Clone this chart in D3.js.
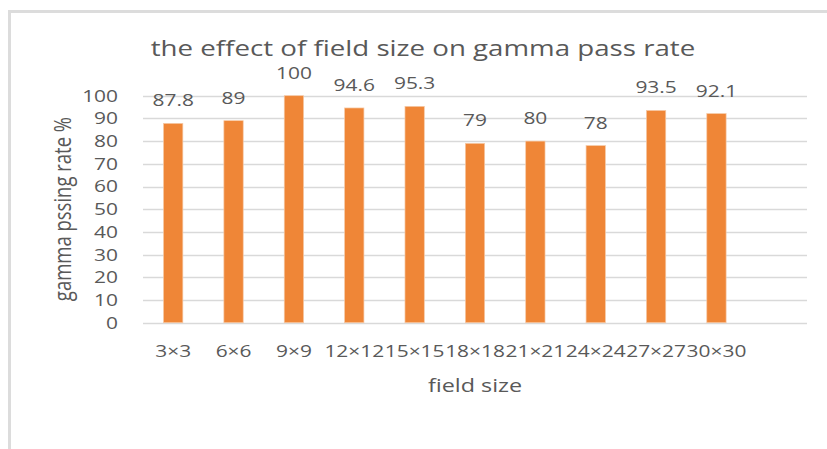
<!DOCTYPE html>
<html lang="en">

<head>
    <meta charset="UTF-8">
    <title>the effect of field size on gamma pass rate</title>
    <script src="https://d3js.org/d3.v7.min.js"></script>
    <style>
        body { margin: 0; background: #fff; }
    </style>
</head>

<body>
    <svg id="chart" width="827" height="449"></svg>
    <script>
        // data
        const fieldSizes = ["3×3", "6×6", "9×9", "12×12", "15×15", "18×18", "21×21", "24×24", "27×27", "30×30"];
        const passRates = [87.8, 89, 100, 94.6, 95.3, 79, 80, 78, 93.5, 92.1];
        const yTicks = [0, 10, 20, 30, 40, 50, 60, 70, 80, 90, 100];

        const width = 827;
        const height = 449;
        const textColor = "#595959";
        const font = "'Open Sans', sans-serif";
        // the screenshot is stretched sideways, so the text is too
        const sx = 1.23;

        const svg = d3.select("#chart");

        // place a text at (px, py) and widen it horizontally
        function stretch(sel, px, py) {
            sel.attr("x", 0).attr("y", 0)
                .attr("transform", (d, i) => `translate(${px(d, i)},${py(d, i)}) scale(${sx},1)`);
        }

        // outer frame (only top and left edges show in the picture)
        svg.append("path")
            .attr("d", `M9.5,${height} V11.5 H${width}`)
            .attr("fill", "none")
            .attr("stroke", "#dcdcdc")
            .attr("stroke-width", 3);

        // excel left an empty slot after the last category
        const x = d3.scaleBand()
            .domain([...fieldSizes, ""])
            .range([143, 807])
            .paddingInner(0.68)
            .paddingOuter(0.34);

        const y = d3.scaleLinear()
            .domain([0, 100])
            .range([322.7, 95.7]);

        // gridlines
        svg.append("g")
            .selectAll("line")
            .data(yTicks)
            .join("line")
            .attr("x1", 143)
            .attr("x2", 807)
            .attr("y1", d => Math.round(y(d)) + 0.5)
            .attr("y2", d => Math.round(y(d)) + 0.5)
            .attr("stroke", "#d9d9d9")
            .attr("stroke-width", 1.5);

        // y axis labels
        const yAxis = svg.append("g")
            .call(d3.axisLeft(y).tickValues(yTicks).tickSize(0).tickPadding(0));
        yAxis.select(".domain").remove();
        yAxis.selectAll(".tick").attr("transform", null);
        yAxis.selectAll("text")
            .attr("fill", textColor)
            .style("font-family", font)
            .style("font-size", "17px")
            .attr("text-anchor", "end")
            .attr("dy", "0.35em")
            .call(stretch, () => 118, d => y(d));

        // x axis labels
        const xAxis = svg.append("g")
            .call(d3.axisBottom(x).tickValues(fieldSizes).tickSize(0).tickPadding(0));
        xAxis.select(".domain").remove();
        xAxis.selectAll(".tick").attr("transform", null);
        xAxis.selectAll("text")
            .attr("fill", textColor)
            .style("font-family", font)
            .style("font-size", "17px")
            .attr("dy", 0)
            .call(stretch, d => x(d) + x.bandwidth() / 2, () => y(0) + 34);

        // bars
        svg.append("g")
            .selectAll("rect")
            .data(passRates)
            .join("rect")
            .attr("x", (d, i) => x(fieldSizes[i]))
            .attr("y", d => y(d))
            .attr("width", x.bandwidth())
            .attr("height", d => y(0) - y(d))
            .attr("fill", "#ef8637")
            .attr("stroke", "#f6c9a6")
            .attr("stroke-width", 0.7);

        // value labels
        svg.append("g")
            .selectAll("text")
            .data(passRates)
            .join("text")
            .attr("text-anchor", "middle")
            .attr("fill", textColor)
            .style("font-family", font)
            .style("font-size", "17px")
            .text(d => d)
            .call(stretch, (d, i) => x(fieldSizes[i]) + x.bandwidth() / 2, d => y(d) - 17);

        // title
        svg.append("text")
            .attr("text-anchor", "middle")
            .attr("fill", textColor)
            .style("font-family", font)
            .style("font-size", "22.5px")
            .text("the effect of field size on gamma pass rate")
            .call(stretch, () => 423, () => 56);

        // axis titles
        svg.append("text")
            .attr("transform", `translate(71,209) rotate(-90) scale(1,${sx})`)
            .attr("text-anchor", "middle")
            .attr("fill", textColor)
            .style("font-family", font)
            .style("font-size", "18.5px")
            .text("gamma pssing rate %");

        svg.append("text")
            .attr("text-anchor", "middle")
            .attr("fill", textColor)
            .style("font-family", font)
            .style("font-size", "19px")
            .text("field size")
            .call(stretch, () => 475, () => 392);
    </script>
</body>

</html>
